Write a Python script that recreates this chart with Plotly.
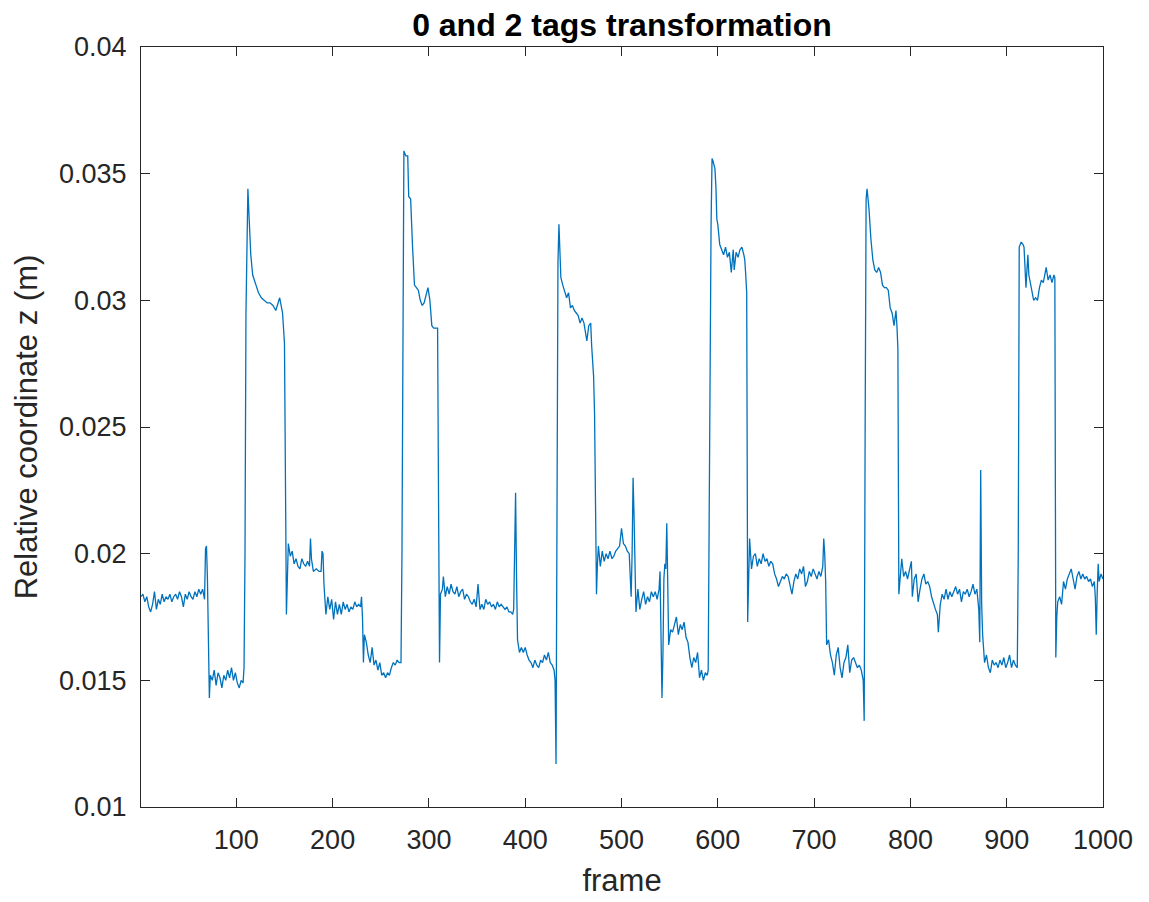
import plotly.graph_objects as go

frame = [1,3,5,7,9,11,13,15,17,19,21,23,25,27,29,31,33,35,37,39,41,43,45,47,49,51,53,55,57,59,61,63,65,67,68,69,70,71,72,
73,75,77,79,81,83,85,87,89,91,93,95,97,99,101,103,105,107,108,109,110,111,112,113,114,115,117,120,123,126,129,132,135,138,141,143,145,147,148,150,151,152,153,154,156,158,160,162,164,166,168,170,172,174,176,177,178,180,183,186,188,189,190,191,193,195,197,199,201,203,205,207,209,211,213,215,217,219,221,223,225,227,229,230,231,232,233,235,237,239,241,243,245,247,249,251,253,255,257,259,261,263,265,267,269,271,272,273,274,276,278,279,281,283,285,287,289,291,293,295,297,299,301,303,305,307,309,310,311,312,314,315,317,319,321,323,325,327,329,331,333,335,337,339,341,343,345,347,349,351,353,355,357,359,361,363,365,367,369,371,373,375,377,379,381,383,385,387,388,389,390,391,392,394,396,398,400,402,404,406,408,410,412,414,416,418,420,422,424,426,428,430,431,432,433,434,435,436,437,439,441,443,445,447,449,451,453,455,457,459,461,463,464,466,468,469,471,472,473,474,475,476,478,480,482,484,486,488,490,492,494,496,498,500,502,504,506,508,509,510,511,512,513,514,515,517,519,521,523,525,527,529,531,533,535,537,539,540,541,542,543,544,545,546,547,548,549,551,553,555,557,559,561,563,565,567,569,571,573,575,577,579,581,583,585,587,589,590,591,592,593,594,595,597,598,599,600,602,604,606,608,610,612,614,616,617,619,621,623,625,627,628,629,630,631,632,633,635,637,639,641,643,645,647,649,651,653,655,657,659,661,663,665,667,669,671,673,675,677,679,681,683,685,687,689,691,693,695,697,699,701,703,705,707,709,710,711,712,713,715,717,719,721,723,725,727,729,731,733,735,737,739,741,743,745,747,749,751,752,753,754,755,756,757,759,761,763,765,767,769,771,773,775,777,779,781,783,784,785,786,787,788,790,791,793,795,797,799,801,802,804,806,808,810,812,814,816,818,820,822,824,826,828,829,831,833,835,837,839,841,843,845,847,849,851,853,855,857,859,861,863,865,867,869,870,871,872,873,874,875,877,879,881,883,885,887,889,891,893,895,897,899,901,903,905,907,909,911,912,913,915,917,918,919,920,921,922,923,924,926,928,930,932,934,936,938,940,941,943,945,947,949,950,951,952,953,955,957,959,961,963,965,967,969,971,973,975,977,979,981,983,985,987,989,991,992,993,994,995,996,998,1000]

z = [0.0183,0.0184,0.0181,0.0183,0.0179,0.0177,0.0180,0.0185,0.0178,0.0182,0.0180,0.0184,0.0181,0.0183,0.0182,0.0184,0.0181,0.0183,0.0184,0.0182,0.0185,0.0183,0.0179,0.0184,0.0182,0.0185,0.0183,0.0182,0.0185,0.0183,0.0186,0.0184,0.0186,0.0182,0.0202,0.0203,0.0190,0.0160,0.0143,
0.0152,0.0150,0.0154,0.0148,0.0153,0.0151,0.0147,0.0152,0.0150,0.0154,0.0151,0.0155,0.0150,0.0153,0.0149,0.0147,0.0150,0.0149,0.0155,0.0200,0.0295,0.0330,0.0344,0.0335,0.0326,0.0318,0.0310,0.0306,0.0303,0.0301,0.0300,0.0299,0.0299,0.0298,0.0296,0.0299,0.0301,0.0297,0.0295,0.0283,0.0230,0.0176,0.0190,0.0204,0.0199,0.0201,0.0196,0.0198,0.0195,0.0194,0.0198,0.0196,0.0195,0.0197,0.0195,0.0206,0.0198,0.0193,0.0194,0.0193,0.0193,0.0201,0.0200,0.0188,0.0176,0.0183,0.0178,0.0182,0.0174,0.0181,0.0176,0.0180,0.0176,0.0181,0.0178,0.0180,0.0177,0.0179,0.0178,0.0181,0.0179,0.0180,0.0179,0.0183,0.0175,0.0157,0.0168,0.0165,0.0160,0.0157,0.0163,0.0156,0.0158,0.0154,0.0157,0.0152,0.0153,0.0151,0.0153,0.0152,0.0155,0.0157,0.0156,0.0158,0.0157,0.0157,0.0200,0.0330,0.0359,0.0357,0.0357,0.0341,0.0340,0.0321,0.0306,0.0305,0.0304,0.0300,0.0298,0.0299,0.0302,0.0305,0.0300,0.0290,0.0289,0.0289,0.0289,0.0220,0.0157,0.0184,0.0186,0.0191,0.0183,0.0187,0.0184,0.0188,0.0185,0.0184,0.0187,0.0183,0.0185,0.0186,0.0182,0.0184,0.0183,0.0181,0.0180,0.0182,0.0179,0.0188,0.0178,0.0180,0.0178,0.0182,0.0180,0.0181,0.0179,0.0180,0.0178,0.0181,0.0179,0.0180,0.0179,0.0178,0.0179,0.0177,0.0177,0.0176,0.0178,0.0200,0.0224,0.0190,0.0166,0.0161,0.0163,0.0161,0.0163,0.0160,0.0158,0.0157,0.0155,0.0158,0.0156,0.0155,0.0158,0.0157,0.0160,0.0158,0.0161,0.0157,0.0156,0.0154,0.0150,0.0117,0.0200,0.0315,0.0330,0.0316,0.0309,0.0306,0.0303,0.0301,0.0303,0.0297,0.0298,0.0296,0.0295,0.0294,0.0291,0.0293,0.0291,0.0287,0.0284,0.0290,0.0291,0.0282,0.0270,0.0255,0.0200,0.0184,0.0196,0.0203,0.0195,0.0201,0.0197,0.0200,0.0198,0.0201,0.0198,0.0199,0.0201,0.0202,0.0203,0.0210,0.0204,0.0203,0.0201,0.0200,0.0190,0.0183,0.0200,0.0230,0.0215,0.0195,0.0177,0.0186,0.0178,0.0182,0.0185,0.0180,0.0183,0.0181,0.0185,0.0183,0.0185,0.0182,0.0186,0.0193,0.0170,0.0143,0.0160,0.0190,0.0196,0.0194,0.0212,0.0190,0.0164,0.0170,0.0169,0.0172,0.0175,0.0168,0.0172,0.0170,0.0173,0.0167,0.0165,0.0159,0.0155,0.0159,0.0157,0.0161,0.0151,0.0154,0.0150,0.0153,0.0152,0.0154,0.0230,0.0294,0.0330,0.0356,0.0355,0.0352,0.0345,0.0332,0.0330,0.0322,0.0320,0.0318,0.0321,0.0317,0.0319,0.0311,0.0320,0.0312,0.0319,0.0317,0.0320,0.0321,0.0318,0.0316,0.0310,0.0303,0.0173,0.0190,0.0206,0.0194,0.0199,0.0200,0.0195,0.0198,0.0196,0.0200,0.0197,0.0198,0.0195,0.0197,0.0196,0.0192,0.0190,0.0187,0.0189,0.0191,0.0190,0.0192,0.0191,0.0187,0.0184,0.0189,0.0192,0.0190,0.0194,0.0192,0.0195,0.0187,0.0189,0.0193,0.0191,0.0194,0.0192,0.0190,0.0193,0.0191,0.0195,0.0206,0.0200,0.0189,0.0164,0.0166,0.0160,0.0157,0.0152,0.0160,0.0163,0.0155,0.0151,0.0157,0.0159,0.0164,0.0153,0.0158,0.0159,0.0157,0.0155,0.0156,0.0154,0.0150,0.0134,0.0250,0.0340,0.0344,0.0341,0.0336,0.0324,0.0316,0.0312,0.0311,0.0313,0.0311,0.0306,0.0305,0.0305,0.0304,0.0297,0.0295,0.0290,0.0293,0.0296,0.0290,0.0281,0.0184,0.0192,0.0198,0.0191,0.0193,0.0190,0.0194,0.0197,0.0183,0.0190,0.0192,0.0181,0.0186,0.0190,0.0192,0.0188,0.0189,0.0187,0.0183,0.0180,0.0178,0.0176,0.0169,0.0180,0.0184,0.0182,0.0186,0.0182,0.0185,0.0183,0.0185,0.0187,0.0184,0.0186,0.0181,0.0185,0.0184,0.0186,0.0183,0.0185,0.0188,0.0184,0.0186,0.0183,0.0178,0.0165,0.0233,0.0180,0.0168,0.0157,0.0160,0.0155,0.0153,0.0158,0.0156,0.0157,0.0155,0.0158,0.0156,0.0159,0.0155,0.0157,0.0160,0.0155,0.0158,0.0156,0.0155,0.0200,0.0321,0.0323,0.0322,0.0321,0.0313,0.0305,0.0312,0.0318,0.0310,0.0308,0.0305,0.0300,0.0301,0.0300,0.0305,0.0308,0.0307,0.0311,0.0313,0.0308,0.0310,0.0307,0.0310,0.0309,0.0159,0.0175,0.0181,0.0183,0.0180,0.0189,0.0186,0.0190,0.0192,0.0194,0.0190,0.0186,0.0191,0.0193,0.0190,0.0192,0.0190,0.0191,0.0189,0.0190,0.0187,0.0189,0.0183,0.0168,0.0185,0.0196,0.0189,0.0192,0.0190]

x_ticks = [100, 200, 300, 400, 500, 600, 700, 800, 900, 1000]
y_ticks = [0.01, 0.015, 0.02, 0.025, 0.03, 0.035, 0.04]
y_labels = ["0.01", "0.015", "0.02", "0.025", "0.03", "0.035", "0.04"]

axis_col = "#262626"
font_fam = "Liberation Sans, Arial, sans-serif"

fig = go.Figure()
fig.add_trace(go.Scatter(x=frame, y=z, mode="lines",
                         line=dict(color="#0072BD", width=1.3),
                         showlegend=False))

fig.update_layout(
    width=1149, height=902,
    paper_bgcolor="white", plot_bgcolor="white",
    margin=dict(l=141, r=46, t=47, b=95, autoexpand=False),
    font=dict(family=font_fam, color=axis_col, size=27),
    title=dict(text="<b>0 and 2 tags transformation</b>", x=0.5413, xanchor="center",
               y=0.973, yanchor="middle", font=dict(size=32, color="black")),
)
fig.update_xaxes(range=[1, 1000], tickvals=x_ticks, ticks="inside", ticklen=9,
                 tickcolor=axis_col, showline=True, linecolor=axis_col, linewidth=1,
                 mirror="allticks", showgrid=False, zeroline=False,
                 tickfont=dict(size=27, color=axis_col), ticklabelstandoff=9,
                 title=dict(text="frame", font=dict(size=31, color=axis_col), standoff=14))
fig.update_yaxes(range=[0.01, 0.04], tickvals=y_ticks, ticktext=y_labels, ticks="inside",
                 ticklen=9, tickcolor=axis_col, showline=True, linecolor=axis_col, linewidth=1,
                 mirror="allticks", showgrid=False, zeroline=False,
                 tickfont=dict(size=27, color=axis_col), ticklabelstandoff=8,
                 title=dict(text="Relative coordinate z (m)", font=dict(size=31, color=axis_col), standoff=12))

fig.write_html("out.html")
